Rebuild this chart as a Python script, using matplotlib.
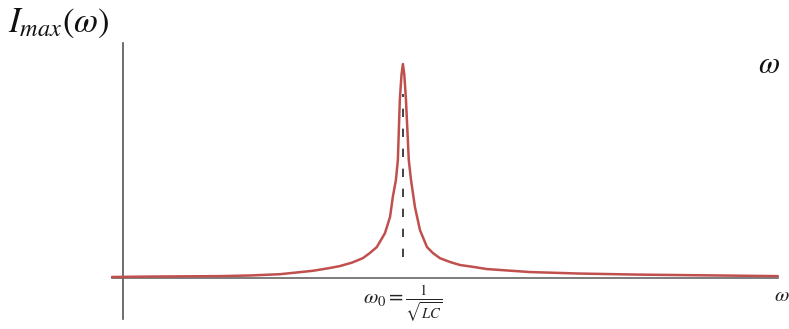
import matplotlib.pyplot as plt
import numpy as np

plt.rcParams['mathtext.fontset'] = 'stix'

# resonance curve (omega in units of omega_0, current relative to peak)
omega = [-0.039, 0.096, 0.346, 0.454, 0.561, 0.679, 0.739, 0.775, 0.818, 0.857, 0.882,
         0.907, 0.936, 0.954, 0.964, 0.975, 0.982, 0.989, 0.995, 1.0, 1.005, 1.011,
         1.021, 1.029, 1.043, 1.061, 1.086, 1.107, 1.132, 1.168, 1.204, 1.257, 1.30,
         1.454, 1.632, 1.846, 2.339]
current = [0.005, 0.007, 0.009, 0.012, 0.018, 0.034, 0.047, 0.056, 0.072, 0.093, 0.117,
           0.145, 0.210, 0.285, 0.379, 0.458, 0.551, 0.832, 0.95, 1.0, 0.95, 0.832,
           0.551, 0.458, 0.332, 0.224, 0.145, 0.117, 0.093, 0.075, 0.061, 0.051, 0.042,
           0.028, 0.021, 0.016, 0.009]

ylabel = r'$I_{max}(\omega)$'
xlabel = r'$\omega$'
res_label = r'$\omega_0 = \frac{1}{\sqrt{LC}}$'

fig = plt.figure(figsize=(7.89, 3.29), dpi=100)
ax = fig.add_axes([0, 0, 1, 1])
ax.set_xlim(-0.439, 2.379)
ax.set_ylim(-0.238, 1.299)
ax.axis('off')

# axes drawn by hand like the sketch
ax.plot([0, 0], [-0.19, 1.10], color='#555555', lw=1.2)
ax.plot([-0.04, 2.34], [-0.002, -0.002], color='#666666', lw=1.2)

ax.plot(omega, current, color='#c0504d', lw=1.8, solid_capstyle='round', solid_joinstyle='round')
ax.plot([1, 1], [0.1, 0.86], color='#222222', lw=1.2, ls=(0, (5, 7)))

ax.text(-0.41, 1.19, ylabel, fontsize=25, va='center', ha='left', color='#111111')
ax.text(2.27, 1.00, r'$\omega$', fontsize=22, va='center', ha='left', color='#111111')
ax.text(2.325, -0.08, xlabel, fontsize=15, va='center', ha='left', color='#222222')
ax.text(1.0, -0.12, res_label, fontsize=15, va='center', ha='center', color='#222222')

fig.savefig('out.png', dpi=100)
